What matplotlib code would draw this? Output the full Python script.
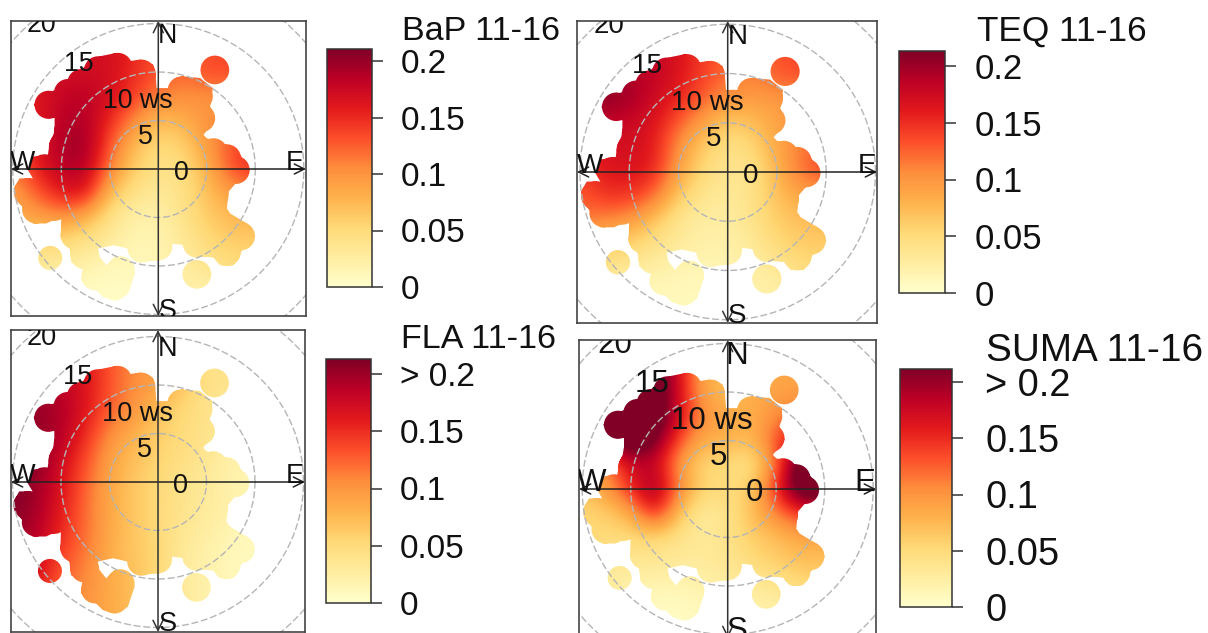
import numpy as np
import matplotlib
matplotlib.use("Agg")
import matplotlib.pyplot as plt
from matplotlib.cm import ScalarMappable
from matplotlib.colors import Normalize
from matplotlib.path import Path

plt.rcParams['font.family'] = ['Liberation Sans', 'DejaVu Sans']

W, H = 1208, 633
SCALE_TOP = 0.2106

# wind speed grid is -15..15 in steps of 2.5, rows run from north to south
# values in hundredths
bap = [
    [17, 17, 17, 17, 17, 15, 13, 12, 13, 13, 13, 13, 13],
    [16, 17, 17, 17, 17, 15, 13, 12, 13, 13.5, 13.5, 13, 13],
    [16, 17, 17, 17, 17, 15, 13, 12, 13.5, 13.5, 13, 13, 13],
    [15, 16, 18, 18.5, 17, 14, 11, 10.5, 10, 10, 11, 11, 11],
    [15, 16, 18.5, 19, 15, 10.5, 7, 8, 10, 11, 12, 12, 12],
    [14, 16, 19, 20, 13, 7, 5, 5.5, 9.5, 13, 14.5, 14, 14],
    [11, 15.5, 18.5, 19, 11, 6, 4, 4.5, 7.5, 13.5, 15, 15, 15],
    [9, 12.5, 16, 16.5, 7, 4, 3, 4, 7, 9, 10, 10, 10],
    [8.5, 9, 10, 8, 4, 2, 2, 4, 6, 7.5, 8, 8, 8],
    [6, 5, 5, 4, 3, 1.5, 1.5, 3, 5, 6, 6, 6, 6],
    [3, 3, 3, 2, 1, 1, 1.5, 3, 3.5, 5, 5, 5, 5],
    [2, 2, 1, .5, .5, .5, 1, 2, 2, 3, 3, 3, 3],
    [1, 1, 1, .5, .5, .5, 1, 2, 2, 2, 2, 2, 2],
]
teq = [
    [20, 20, 19, 18, 16.5, 14, 12, 11, 13, 13.5, 13.5, 13, 13],
    [20, 20, 19, 18, 16.5, 14, 12, 11, 13, 13.5, 13.5, 13, 13],
    [20, 20, 19, 18, 16.5, 14, 12, 11, 13, 13.5, 13, 13, 13],
    [20, 20.5, 19.5, 17.5, 15.5, 12.5, 10, 9.5, 9.5, 10, 10, 10, 10],
    [18, 18, 17.5, 16.5, 12.5, 9, 6, 7, 9, 10, 11, 11, 11],
    [16, 16.5, 17, 16, 10, 6, 4, 5, 8.5, 11.5, 13, 13, 13],
    [14, 16, 16.5, 15.5, 9, 5, 3.5, 4, 7.5, 12, 13.5, 13.5, 13.5],
    [12.5, 14.5, 14.5, 12, 6, 3.5, 3, 4, 7, 8.5, 9, 9, 9],
    [11.5, 10.5, 9.5, 6.5, 3.5, 2.5, 2.5, 4, 6, 7, 7.5, 7.5, 7.5],
    [7, 6, 5.5, 4, 3, 2, 2, 3, 5, 6, 6, 6, 6],
    [4, 3.5, 3, 2, 1.5, 1.2, 1.5, 2.5, 3, 5, 5, 5, 5],
    [2, 2, 1.5, 1, 1, 1, 1, 2, 2, 3, 3, 3, 3],
    [1, 1, 1, 1, 1, 1, 1, 2, 2, 2, 2, 2, 2],
]
fla = [
    [21, 20, 18, 16.5, 13, 10.5, 9, 7, 4, 4, 4, 4, 4],
    [21, 20, 18, 16.5, 13, 10.5, 9, 7, 4, 4, 4, 4, 4],
    [21, 20, 18, 16.5, 13, 10.5, 9, 7, 4, 4, 4, 4, 4],
    [21, 20, 19, 16.5, 12.5, 10, 7, 5, 4, 3, 3, 3, 3],
    [21, 20, 19, 15, 10.5, 8, 6, 5, 4, 3, 2, 2, 2],
    [21, 21, 17.5, 13.5, 9, 7, 5.5, 4.5, 3.5, 2, 1.5, 1.5, 1.5],
    [21, 20, 16.5, 12.5, 8.5, 6.5, 5, 4, 3, 2, 1.5, 1.5, 1.5],
    [21, 19.5, 16, 12, 8.5, 6.5, 5, 4, 3, 2, 1.2, 1, 1],
    [20, 19, 15, 12, 8.5, 6.5, 5, 3.5, 2.5, 1.5, 1, 1, 1],
    [19, 18, 13.5, 11.5, 8, 6.5, 5.5, 3, 2, 1.2, .8, .8, .8],
    [17, 16.5, 12.5, 10.5, 8.5, 7, 5, 3, 2, 1.2, .8, .8, .8],
    [16, 15, 11.5, 10, 8.5, 7, 5, 3, 2, 1.2, .8, .8, .8],
    [15, 14, 11, 10, 8.5, 7, 5, 3, 2, 1.2, .8, .8, .8],
]
suma = [
    [24, 24, 24, 24, 17, 8, 7, 7, 8.5, 9, 9, 9, 9],
    [24, 24, 24, 24, 17, 8, 7, 7.5, 8.5, 9, 9, 9, 9],
    [24, 24, 24, 24, 17, 8.5, 7, 8, 9, 9, 9, 9, 9],
    [24, 24, 25, 25, 17, 10, 9, 8, 10.5, 12, 12, 12, 12],
    [18, 21, 25, 22, 13, 8, 8, 7, 13.5, 18, 20, 20, 20],
    [9, 10, 17, 18, 9, 5, 5, 3.5, 11, 25, 25, 25, 25],
    [7, 9.5, 15, 21, 11, 5.5, 5, 6, 15, 25, 25, 25, 25],
    [5, 6, 8, 16, 6.5, 2.5, 4, 7, 11, 14, 15, 15, 15],
    [5.5, 5, 5, 5, 4, 3, 4, 6, 7, 8.5, 8.5, 8.5, 8.5],
    [4, 3, 3.5, 3.5, 3, 3, 3.5, 5, 6, 7, 7, 7, 7],
    [3, 3, 2, 1.5, 1.5, 2, 2.5, 3, 3.5, 5, 5, 5, 5],
    [2, 2, 1, .5, .5, 1, 1.5, 2, 2, 3, 3, 3, 3],
    [1, 1, 1, .5, .5, 1, 1.5, 2, 2, 2, 2, 2, 2],
]

# rounded bins along the edge of the data, east and north in wind speed units
bump_x = [-1.72, -4.14, -6.21, -7.93, -9.31, -11.31, -9.31, -9.83, -11.72, -13.45, -12.59, -10.69,
          -8.62, -7.59, -6.48, -4.48, -3.86, -1.72, 0, 3.97, 5.69, 7.07, 8.52, 5.79, 7.97, 7.07, 5.69,
          4.41, 4.17, 2.41, 5.83, 3.97, -11.14]
bump_y = [9.83, 10.52, 10.17, 8.86, 7.83, 6.62, 3.86, 2.31, 0.07, -2.41, -4.17, -3.90,
          -6.83, -8.90, -11.07, -12.10, -10.45, -8.21, -7.97, -7.69, -7.69, -8.55, -6.93, -2.69, -0.10, 1.10, 1.72,
          5.24, 7.48, 8.10, 10.21, -10.86, -9.17]
bump_r = [1.45] * 30 + [1.48, 1.48, 1.24]
# outline of the connected part, from north round by west
edge_x = [-0.28, -0.52, -1.90, -3.10, -4.31, -6.03, -7.76, -9.14, -10.52, -12.07, -12.83, -12.07, -10.69, -10.69,
          -11.21, -11.38, -12.93, -13.45, -12.93, -14.31, -14.90, -14.31, -13.45, -12.93, -11.55, -10.0, -10.07,
          -9.14, -8.97, -7.76, -7.93, -6.38, -5.69, -4.31, -3.10, -2.41, -3.10, -4.48, -5.34, -6.03, -6.21, -4.66,
          -3.10, -1.90, 0.17, 1.21, 1.38, 2.76, 3.97, 5.69, 6.38, 7.76, 8.52, 10.0, 9.14, 7.41, 7.07, 7.24, 8.28,
          9.41, 8.45, 7.07, 5.0, 4.66, 5.86, 5.34, 5.62, 4.31, 2.41, 1.21, -0.17]
edge_y = [9.72, 10.76, 11.28, 11.10, 11.97, 11.62, 10.41, 9.21, 8.17, 7.66, 6.62, 5.59, 5.24, 3.86,
          2.66, 1.45, 1.28, -0.10, -0.97, -0.97, -2.0, -3.55, -4.59, -5.62, -5.62, -4.93, -7.0,
          -8.21, -9.59, -10.28, -11.48, -12.52, -13.21, -13.55, -12.86, -10.79, -9.41, -9.07, -9.93, -9.07, -8.21, -7.86,
          -8.21, -9.59, -9.41, -8.21, -7.69, -7.86, -9.07, -9.07, -9.93, -9.93, -8.55, -7.0, -5.62, -4.59, -4.07, -2.34, -1.14,
          -0.10, 1.45, 2.48, 3.17, 3.52, 5.07, 6.45, 8.34, 9.38, 9.55, 8.34, 8.34]

rings = [5, 10, 15, 20]
ring_labels = ['0', '5', '10 ws', '15', '20']
ring_label_x = [2.34, -1.38, -2.07, -8.2, -12.0]
ring_label_y = [-0.4, 3.3, 7.0, 10.8, 14.8]
compass = ['N', 'S', 'E', 'W']
compass_x = [0.97, 0.97, 14.1, -14.0]
compass_y = [13.7, -14.6, 0.6, 0.6]
ticks = [0, 0.05, 0.1, 0.15, 0.2]
tick_labels = ['0', '0.05', '0.1', '0.15', '0.2']
tick_labels_top = ['0', '0.05', '0.1', '0.15', '> 0.2']

fig = plt.figure(figsize=(W / 100, H / 100), dpi=100)


def px_axes(x0, y0, x1, y1):
    return fig.add_axes([x0 / W, 1 - y1 / H, (x1 - x0) / W, (y1 - y0) / H])


def coverage():
    verts, codes = [], []
    for x, y, r in zip(bump_x, bump_y, bump_r):
        c = Path.circle((x, y), r)
        verts.extend(c.vertices)
        codes.extend(c.codes)
    verts.extend(zip(edge_x + edge_x[:1], edge_y + edge_y[:1]))
    codes.extend([Path.MOVETO] + [Path.LINETO] * (len(edge_x) - 1) + [Path.CLOSEPOLY])
    return Path(verts, codes)


def panel(vals, box, center, px_per_ws, label_size, label_dx=0):
    ax = px_axes(*box)
    ax.set_xticks([])
    ax.set_yticks([])
    im = ax.imshow(np.array(vals) / 100, cmap='YlOrRd', vmin=0, vmax=SCALE_TOP, interpolation='bicubic',
                   extent=(-16.25, 16.25, -16.25, 16.25), aspect='auto', zorder=1)
    im.set_clip_path(coverage(), transform=ax.transData)
    ax.set_xlim((box[0] - center[0]) / px_per_ws, (box[2] - center[0]) / px_per_ws)
    ax.set_ylim((center[1] - box[3]) / px_per_ws, (center[1] - box[1]) / px_per_ws)

    t = np.linspace(0, 2 * np.pi, 200)
    for r in rings:
        ax.plot(r * np.cos(t), r * np.sin(t), color='#b5b5b5', lw=1.0, ls=(0, (5, 2)), zorder=2)

    xr = ax.get_xlim()
    yr = ax.get_ylim()
    ax.annotate('', xy=(xr[1], 0), xytext=(xr[0], 0), annotation_clip=False, zorder=3,
                arrowprops=dict(arrowstyle='<->', color='#222222', lw=1.1, shrinkA=0, shrinkB=0, mutation_scale=18))
    ax.annotate('', xy=(0, yr[1]), xytext=(0, yr[0]), annotation_clip=False, zorder=3,
                arrowprops=dict(arrowstyle='<->', color='#333333', lw=1.1, shrinkA=0, shrinkB=0, mutation_scale=18))

    for s, x, y in zip(ring_labels, ring_label_x, ring_label_y):
        ax.text(x + label_dx, y, s, fontsize=label_size, ha='center', va='center', color='#111111', zorder=4, clip_on=True)
    for s, x, y in zip(compass, compass_x, compass_y):
        ax.text(x, y, s, fontsize=label_size, ha='center', va='center', color='#111111', zorder=4, clip_on=True)
    for sp in ax.spines.values():
        sp.set_color('#444444')
        sp.set_linewidth(1.2)


def scale(box, zero_y, top_y, title, title_xy, labels, size, title_size, pad=13):
    cax = px_axes(*box)
    sm = ScalarMappable(Normalize(0, 0.2 * (box[3] - box[1]) / (zero_y - top_y)), cmap='YlOrRd')
    cb = fig.colorbar(sm, cax=cax, ticks=ticks)
    cb.ax.set_yticklabels(labels)
    cb.ax.tick_params(length=8, width=1.1, pad=pad, labelsize=size, color='#333333', labelcolor='#111111')
    cb.outline.set_edgecolor('#333333')
    cb.outline.set_linewidth(1.1)
    fig.text(title_xy[0] / W, 1 - title_xy[1] / H, title, fontsize=title_size, va='center', ha='left', color='#111111')


panel(bap, (11, 21, 306, 316), (158.3, 169), 9.7, 19.3)
panel(teq, (577, 21, 877, 323), (727.7, 172), 9.85, 20)
panel(fla, (11, 330, 305, 632), (158, 482), 9.7, 19.5)
panel(suma, (579, 340, 876, 638), (727.7, 489), 9.7, 22.5, 0.4)

scale((327, 49, 372, 287), 287, 61, 'BaP 11-16', (402, 31), tick_labels, 24, 24.6)
scale((899, 51, 945, 293), 293, 66, 'TEQ 11-16', (977, 31), tick_labels, 25, 25.4)
scale((326, 359, 371, 603), 603, 374, 'FLA 11-16', (401, 340), tick_labels_top, 24, 24.6)
scale((900, 369, 952, 607), 607, 382, 'SUMA 11-16', (986, 351), tick_labels_top, 27.4, 27.9, 16)

fig.savefig('out.png', dpi=100)
